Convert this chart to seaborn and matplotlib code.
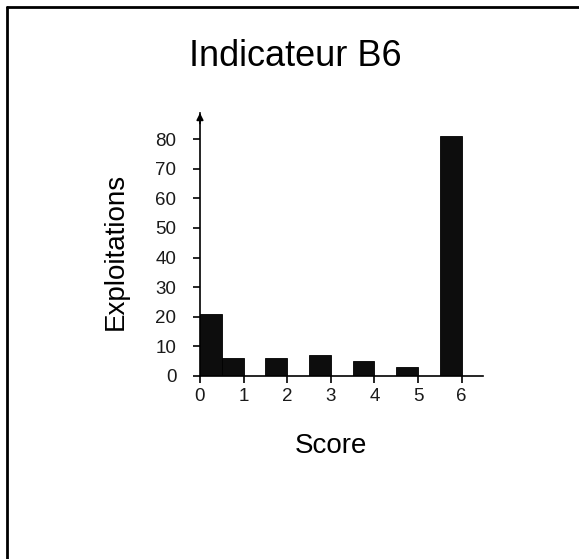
import numpy as np
import matplotlib.pyplot as plt
import seaborn as sns
from matplotlib.lines import Line2D

# histogram: score bins of width 0.5 from 0 to 6
bin_centers = [0.25, 0.75, 1.25, 1.75, 2.25, 2.75, 3.25, 3.75, 4.25, 4.75, 5.25, 5.75]
counts = [21, 6, 0, 6, 0, 7, 0, 5, 0, 3, 0, 81]
x_ticks = [0, 1, 2, 3, 4, 5, 6]
y_ticks = [0, 10, 20, 30, 40, 50, 60, 70, 80]

sns.set_style("white")
plt.rcParams['font.family'] = ['Liberation Sans', 'DejaVu Sans']
plt.rcParams['text.color'] = 'black'
plt.rcParams['axes.labelcolor'] = 'black'

fig = plt.figure(figsize=(5.79, 5.59), dpi=100)
ax = fig.add_axes([0.3454, 0.3274, 0.4888, 0.4705])

sns.histplot(x=bin_centers, weights=counts, bins=12, binrange=(0, 6),
             color="#0d0d0d", edgecolor="black", linewidth=0.6, alpha=1, ax=ax)

ax.set_xlim(0, 6.49)
ax.set_ylim(0, 88.8)
ax.set_xticks(x_ticks)
ax.set_yticks(y_ticks)
ax.tick_params(axis='both', direction='out', length=5, width=1.2, colors='black',
               labelsize=13.5, bottom=True, left=True)
ax.tick_params(axis='y', pad=12)
ax.tick_params(axis='x', pad=4)
for lbl in ax.get_xticklabels() + ax.get_yticklabels():
    lbl.set_color('#1a1a1a')

for side in ['top', 'right']:
    ax.spines[side].set_visible(False)
for side in ['left', 'bottom']:
    ax.spines[side].set_color('black')
    ax.spines[side].set_linewidth(1.2)

# arrow head on y axis
ax.annotate('', xy=(0, 1.0), xytext=(0, 0.96), xycoords='axes fraction',
            arrowprops=dict(arrowstyle='-|>', color='black', lw=1.2,
                            mutation_scale=10, shrinkA=0, shrinkB=0),
            annotation_clip=False)

ax.set_xlabel("Score", fontsize=20)
ax.set_ylabel("Exploitations", fontsize=20)
ax.xaxis.set_label_coords(0.463, -0.266)
ax.xaxis.label.set_va('center')
ax.yaxis.set_label_coords(-0.297, 0.475)
ax.yaxis.label.set_va('center')
fig.text(295 / 579, 1 - 57 / 559, "Indicateur B6", ha='center', va='center', fontsize=26)

# frame lines (top and left visible)
fig.add_artist(Line2D([0.012, 1.0], [0.987, 0.987], transform=fig.transFigure,
                      color='black', linewidth=2))
fig.add_artist(Line2D([0.012, 0.012], [0.0, 0.987], transform=fig.transFigure,
                      color='black', linewidth=2))

fig.savefig("out.png", dpi=100)
